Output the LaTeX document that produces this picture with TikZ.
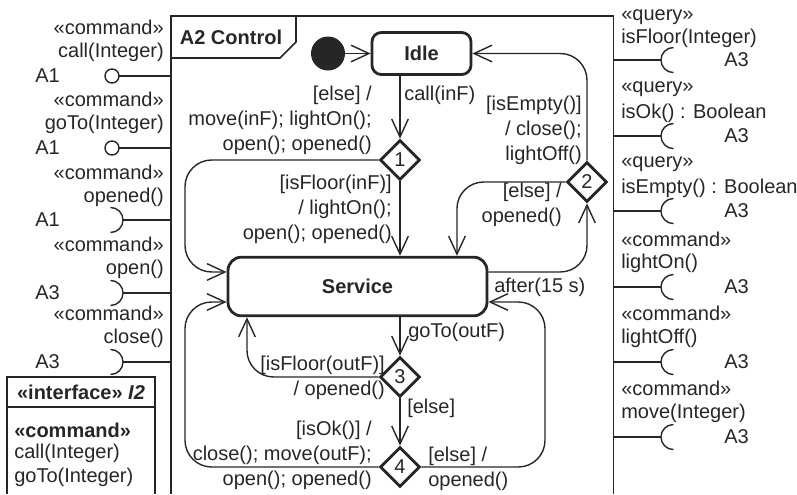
\documentclass[tikz,border=0pt]{standalone}
\usepackage{fontspec}
\setmainfont{Liberation Sans}
\usetikzlibrary{arrows.meta,shapes.geometric}

\definecolor{ink}{HTML}{262626}

\begin{document}
\begin{tikzpicture}[x=0.75pt,y=-0.75pt,
  every node/.style={font=\fontsize{15pt}{18.75pt}\selectfont, text=ink, inner sep=0pt},
  lblr/.style={align=right, anchor=east},
  lbll/.style={align=left, anchor=west},
  statebox/.style={draw=ink, line width=2.1pt, rounded corners=7pt,
    font=\bfseries\fontsize{15pt}{18.75pt}\selectfont},
  choice/.style={diamond, draw=ink, line width=2.1pt, minimum width=30pt,
    minimum height=30pt, inner sep=0pt},
  trans/.style={draw=ink, line width=1.05pt, rounded corners=20pt,
    -{Straight Barb[length=13.5pt,width=12.5pt]}},
  port/.style={draw=ink, line width=1.05pt},
  frame/.style={draw=ink, line width=1.2pt}
]
\useasboundingbox (0,0) rectangle (797,494);

% frame of the state machine with its name tab
\draw[frame] (171,494) -- (171,16) -- (613.5,16) -- (613.5,494);
\draw[frame] (171,58) -- (280,58) -- (296,42) -- (296,16);
\node[font=\bfseries\fontsize{15pt}{18.75pt}\selectfont] (title) at (231,37) {A2 Control};

% states and choice points
\node[circle, fill=ink, minimum size=25.5pt] (init) at (328,53.5) {};
\node[statebox, minimum width=74.25pt, minimum height=31.5pt] (idle) at (421.5,53.5) {Idle};
\node[statebox, rounded corners=10pt, minimum width=194.25pt, minimum height=44pt] (service) at (357.5,286.5) {Service};
\node[choice] (d1) at (400,160) {1};
\node[choice] (d2) at (587,182) {2};
\node[choice] (d3) at (400,377) {3};
\node[choice] (d4) at (400,467) {4};

% transitions
\draw[trans] (init) -- (idle);
\draw[trans] (d1.north |- idle.south) -- (d1.north);
\draw[trans] (d1.south) -- (d1.south |- service.north);
\draw[trans] (d1.west) -- (185,160) -- (185,272) -- ([yshift=10.9pt]service.west);
\draw[trans] (d2.north) |- (idle.east);
\draw[trans] ([yshift=10.9pt]service.east) -| (d2.south);
\draw[trans] (d2.west) -| ([xshift=74.6pt]service.north);
\draw[trans] (d3.north |- service.south) -- (d3.north);
\draw[trans] (d3.west) -| ([xshift=-82.9pt]service.south);
\draw[trans] (d3.south) -- (d4.north);
\draw[trans] (d4.west) -- (185,467) -- (185,302) -- ([yshift=-11.6pt]service.west);
\draw[trans] (d4.east) -- (545,467) -- (545,302) -- ([yshift=-11.6pt]service.east);

% transition labels
\node[lbll] (lcall) at (404,95) {call(inF)};
\node[lblr] (lelse1) at (372,120) {[else] /\\move(inF); lightOn();\\open(); opened()};
\node[lblr] (lfloorin) at (392,209) {[isFloor(inF)]\\/ lightOn();\\open(); opened()};
\node[lblr] (lempty) at (582,130) {[isEmpty()]\\/ close();\\lightOff()};
\node[lblr] (lelse2) at (562,205) {[else] /\\opened()};
\node[lbll] (lafter) at (494,287) {after(15 s)};
\node[lbll] (lgoto) at (408,332) {goTo(outF)};
\node[lblr] (lfloorout) at (385,377.5) {[isFloor(outF)]\\/ opened()};
\node[lbll] (lelse3) at (407,408) {[else]};
\node[lblr] (lok) at (372,455) {[isOk()] /\\close(); move(outF);\\open(); opened()};
\node[lbll] (lelse4) at (428,468.5) {[else] /\\opened()};

% provided ports on the left (lollipops)
\foreach \y in {76,148} {
  \draw[port] (171,\y) -- (119,\y);
  \draw[port] (112,\y) circle[radius=5.25pt];
}
% required ports on the left (sockets)
\foreach \y in {220,293,362} {
  \draw[port] (171,\y) -- (123,\y);
  \draw[port] (110.5,\y+12.5) arc[start angle=-90, end angle=90, radius=9.4pt];
}
% required ports on the right (sockets)
\foreach \y in {60,136,211,287,362,437} {
  \draw[port] (613.5,\y) -- (661,\y);
  \draw[port] (673.5,\y-12.5) arc[start angle=90, end angle=270, radius=9.4pt];
}

% left port labels
\node[lblr] (pl1a) at (164,27) {«command»};
\node[lblr] (pl1b) at (164,52) {call(Integer)};
\node[anchor=west] (pl1c) at (35,76) {A1};
\node[lblr] (pl2a) at (164,99) {«command»};
\node[lblr] (pl2b) at (164,124) {goTo(Integer)};
\node[anchor=west] (pl2c) at (35,148) {A1};
\node[lblr] (pl3a) at (164,172) {«command»};
\node[lblr] (pl3b) at (164,197) {opened()};
\node[anchor=west] (pl3c) at (35,220) {A1};
\node[lblr] (pl4a) at (164,244) {«command»};
\node[lblr] (pl4b) at (164,269) {open()};
\node[anchor=west] (pl4c) at (35,293) {A3};
\node[lblr] (pl5a) at (164,313) {«command»};
\node[lblr] (pl5b) at (164,338) {close()};
\node[anchor=west] (pl5c) at (35,362) {A3};

% right port labels
\node[lbll] (pr1a) at (621,17) {«query»};
\node[lbll] (pr1b) at (621,38) {isFloor(Integer)};
\node[anchor=west] (pr1c) at (724,60) {A3};
\node[lbll] (pr2a) at (621,89) {«query»};
\node[lbll] (pr2b) at (621,113) {isOk() : Boolean};
\node[anchor=west] (pr2c) at (724,136) {A3};
\node[lbll] (pr3a) at (621,164) {«query»};
\node[lbll] (pr3b) at (621,188) {isEmpty() : Boolean};
\node[anchor=west] (pr3c) at (724,211) {A3};
\node[lbll] (pr4a) at (621,239) {«command»};
\node[lbll] (pr4b) at (621,263) {lightOn()};
\node[anchor=west] (pr4c) at (724,287) {A3};
\node[lbll] (pr5a) at (621,313) {«command»};
\node[lbll] (pr5b) at (621,338) {lightOff()};
\node[anchor=west] (pr5c) at (724,362) {A3};
\node[lbll] (pr6a) at (621,388) {«command»};
\node[lbll] (pr6b) at (621,413) {move(Integer)};
\node[anchor=west] (pr6c) at (724,437) {A3};

% interface I2
\draw[frame] (7,494) -- (7,377) -- (155,377) -- (155,494);
\draw[frame] (7,407) -- (155,407);
\node[font=\bfseries\fontsize{15pt}{18.75pt}\selectfont] (ifhead) at (81,392) {«interface» \textit{I2}};
\node[lbll, font=\bfseries\fontsize{15pt}{18.75pt}\selectfont] (ifst) at (14,430) {«command»};
\node[lbll] (ifop1) at (14,453) {call(Integer)};
\node[lbll] (ifop2) at (14,477) {goTo(Integer)};
\end{tikzpicture}
\end{document}
